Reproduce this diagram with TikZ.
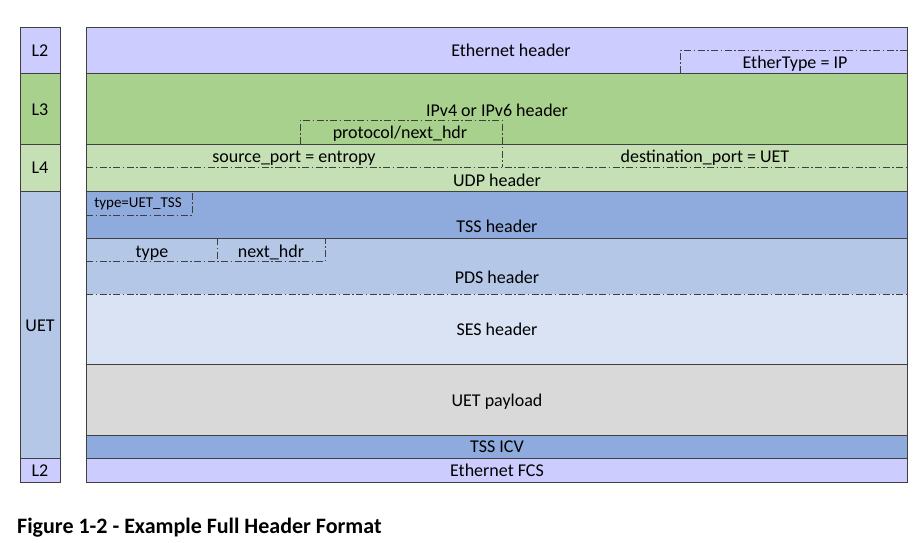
\documentclass[tikz,border=0pt]{standalone}
\usepackage{fontspec}
\setmainfont{Carlito}
\definecolor{ethblue}{HTML}{CCCCFF}
\definecolor{ipgreen}{HTML}{A9D18E}
\definecolor{udpgreen}{HTML}{C5E0B4}
\definecolor{tssblue}{HTML}{8FAADC}
\definecolor{pdsblue}{HTML}{B4C7E7}
\definecolor{sesblue}{HTML}{DAE3F3}
\definecolor{paygrey}{HTML}{D9D9D9}
\definecolor{edge}{HTML}{404040}
\tikzset{
  layer/.style={draw=edge, line width=1pt},
  field/.style={draw=edge, line width=0.9pt, dash pattern=on 7pt off 2.5pt on 1.5pt off 2.5pt},
  txt/.style={anchor=base, inner sep=0pt, font=\fontsize{18}{20}\selectfont},
  small/.style={anchor=base, inner sep=0pt, font=\fontsize{15}{17}\selectfont}
}
\begin{document}
\begin{tikzpicture}[x=1pt,y=-1pt]
  \useasboundingbox (0,0) rectangle (918,542);
  % layer column
  \draw[layer,fill=ethblue] (20,27) rectangle (60,73);
  \draw[layer,fill=ipgreen] (20,73) rectangle (60,144);
  \draw[layer,fill=udpgreen] (20,144) rectangle (60,191);
  \draw[layer,fill=pdsblue] (20,191) rectangle (60,458);
  \draw[layer,fill=ethblue] (20,458) rectangle (60,482);
  % header bands
  \draw[layer,fill=ethblue] (86,27) rectangle (907,73);
  \draw[layer,fill=ipgreen] (86,73) rectangle (907,144);
  \draw[layer,fill=udpgreen] (86,144) rectangle (907,191);
  \draw[layer,fill=tssblue] (86,191) rectangle (907,238);
  \fill[pdsblue] (86,238) rectangle (907,294);
  \fill[sesblue] (86,294) rectangle (907,364);
  \draw[layer] (86,238) rectangle (907,364);
  \draw[layer,fill=paygrey] (86,364) rectangle (907,435);
  \draw[layer,fill=tssblue] (86,435) rectangle (907,458);
  \draw[layer,fill=ethblue] (86,458) rectangle (907,482);
  % fields
  \draw[field] (680,73) -- (680,50) -- (907,50);
  \draw[field] (300,144) -- (300,120) -- (502,120) -- (502,167);
  \draw[field] (86,167) -- (907,167);
  \draw[field] (86,215) -- (192,215) -- (192,191);
  \draw[field] (86,261) -- (325,261) -- (325,238);
  \draw[field] (217,238) -- (217,261);
  \draw[field] (86,294) -- (907,294);
  % layer texts
  \node[txt] at(40,56)(l2top){L2};
  \node[txt] at(40,115)(l3){L3};
  \node[txt] at(40,173)(l4){L4};
  \node[txt] at(40,331)(uet){UET};
  \node[txt] at(40,476)(l2bot){L2};
  % header texts
  \node[txt] at(511,56)(eth){Ethernet header};
  \node[txt] at(795,68)(ethtype){EtherType = IP};
  \node[txt] at(497,116)(ip){IPv4 or IPv6 header};
  \node[txt] at(400,138)(proto){protocol/next\_hdr};
  \node[txt] at(294,162)(srcport){source\_port = entropy};
  \node[txt] at(705,162)(dstport){destination\_port = UET};
  \node[txt] at(497,186)(udp){UDP header};
  \node[small] at(138,207)(tsstype){type=UET\_TSS};
  \node[txt] at(497,232)(tss){TSS header};
  \node[txt] at(152,257)(pdstype){type};
  \node[txt] at(271,257)(nexthdr){next\_hdr};
  \node[txt] at(497,283)(pds){PDS header};
  \node[txt] at(497,335)(ses){SES header};
  \node[txt] at(497,406)(payload){UET payload};
  \node[txt] at(497,452)(icv){TSS ICV};
  \node[txt] at(497,476)(fcs){Ethernet FCS};
  % caption
  \node[anchor=base west, inner sep=0pt, font=\bfseries\fontsize{22}{24}\selectfont] at(17,533)(caption){Figure 1-2 - Example Full Header Format};
\end{tikzpicture}
\end{document}
